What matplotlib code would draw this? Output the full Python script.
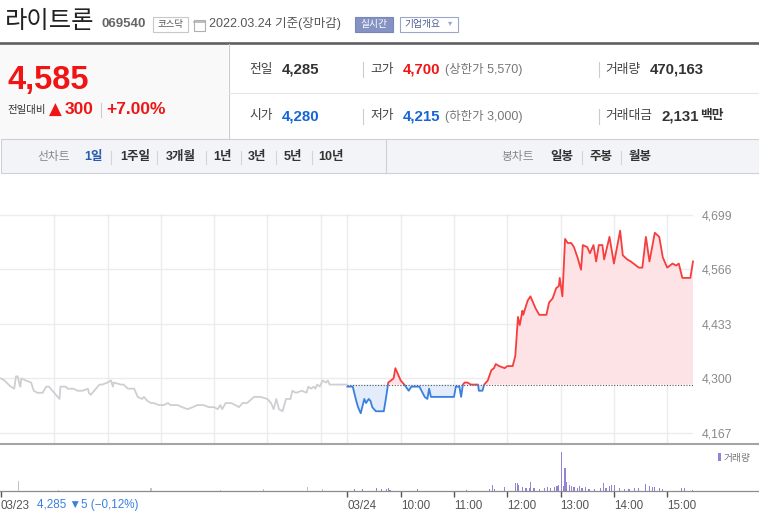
import matplotlib
matplotlib.use('Agg')
import matplotlib.pyplot as plt
from matplotlib.patches import Rectangle
from matplotlib.lines import Line2D
import numpy as np

plt.rcParams['font.family'] = ['Liberation Sans', 'Noto Sans CJK KR', 'DejaVu Sans']

# ---- data ----
# 03/23 intraday (minutes after 09:00) and price
t_prev = [0, 4, 11, 15, 17, 19, 21, 22, 23, 28, 34, 37, 41, 47, 51, 54, 58, 62, 66, 67,
          73, 75, 79, 82, 86, 92, 98, 99, 101, 105, 111, 114, 120, 124, 126, 127, 135, 138, 143, 150,
          154, 159, 161, 165, 169, 172, 178, 183, 188, 191, 199, 204, 210, 216, 221, 228, 234, 240, 244, 247,
          249, 253, 259, 264, 268, 272, 277, 285, 292, 300, 304, 307, 310, 313, 317, 321, 326, 328, 332, 339,
          344, 346, 349, 352, 354, 356, 359, 362, 366, 368, 370, 389]
p_prev = [4300, 4295, 4280, 4275, 4305, 4305, 4285, 4280, 4300, 4295, 4290, 4270, 4265, 4265, 4280, 4280, 4270, 4260, 4250, 4280,
          4280, 4275, 4275, 4275, 4270, 4270, 4275, 4265, 4260, 4270, 4285, 4285, 4290, 4295, 4280, 4290, 4285, 4285, 4275, 4275,
          4255, 4250, 4255, 4245, 4240, 4240, 4235, 4235, 4240, 4235, 4235, 4230, 4225, 4230, 4235, 4235, 4230, 4230, 4225, 4235,
          4225, 4240, 4240, 4235, 4230, 4240, 4240, 4255, 4255, 4250, 4240, 4225, 4250, 4225, 4220, 4250, 4250, 4270, 4265, 4270,
          4265, 4280, 4275, 4280, 4275, 4285, 4280, 4295, 4290, 4295, 4285, 4285]

# 03/24 intraday (minutes after 09:00) and price
t_today = [0, 6, 10, 12, 15, 19, 21, 24, 26, 28, 32, 38, 41, 44, 46, 49, 52, 54, 57, 60,
           64, 69, 72, 77, 81, 87, 90, 92, 94, 100, 120, 122, 126, 128, 130, 132, 135, 139, 147, 148,
           152, 154, 158, 162, 165, 167, 171, 177, 180, 186, 189, 192, 194, 197, 198, 200, 203, 206, 208, 212,
           216, 220, 224, 227, 231, 235, 238, 239, 242, 245, 248, 252, 255, 259, 263, 265, 270, 273, 277, 280,
           283, 287, 289, 295, 300, 307, 310, 315, 319, 325, 328, 332, 336, 340, 346, 351, 355, 360, 366, 370,
           373, 377, 381, 386, 389]
p_today = [4280, 4280, 4245, 4230, 4215, 4250, 4240, 4250, 4245, 4230, 4220, 4220, 4220, 4260, 4290, 4295, 4300, 4325, 4310, 4295,
           4285, 4270, 4280, 4280, 4280, 4255, 4250, 4275, 4255, 4255, 4255, 4280, 4280, 4255, 4285, 4290, 4290, 4285, 4285, 4270,
           4270, 4285, 4295, 4320, 4325, 4335, 4330, 4325, 4330, 4330, 4355, 4450, 4430, 4465, 4455, 4470, 4490, 4500, 4490, 4470,
           4455, 4455, 4455, 4485, 4495, 4520, 4525, 4545, 4500, 4640, 4630, 4630, 4620, 4595, 4565, 4625, 4620, 4605, 4625, 4585,
           4625, 4625, 4590, 4645, 4580, 4660, 4600, 4590, 4585, 4575, 4570, 4570, 4645, 4585, 4655, 4645, 4595, 4570, 4580, 4575,
           4580, 4545, 4545, 4545, 4585]

vol_prev_t = [20, 65, 169, 247, 296, 345, 362]
vol_prev_v = [14000, 1400, 4200, 1400, 2800, 5600, 2800]
vol_today_t = [8, 17, 33, 38, 44, 46, 48, 79, 134, 160, 163, 166, 177, 189, 191, 193, 197, 201, 205, 206,
               210, 216, 222, 225, 229, 233, 236, 238, 241, 243, 245, 247, 250, 252, 255, 259, 261, 264, 268, 272,
               278, 285, 288, 291, 295, 297, 301, 306, 312, 317, 323, 328, 336, 340, 343, 346, 351, 355, 376, 379, 388]
vol_today_v = [2800, 2800, 4200, 2400, 2800, 4200, 1400, 2800, 1400, 2800, 8400, 2800, 5600, 10800, 11200, 8400, 5600, 4200, 4200, 12200,
               4200, 2800, 4200, 5600, 4200, 5600, 7000, 8400, 55000, 7000, 32200, 12600, 8400, 7000, 5600, 4200, 7000, 4200, 5600, 2800,
               2800, 4200, 11200, 4200, 7000, 8400, 8400, 4200, 2800, 2800, 4200, 4200, 9800, 7000, 5600, 5600, 4200, 2800, 4200, 4200, 1400]

prev_close = 4285
y_ticks = [4167, 4300, 4433, 4566, 4699]
x_tick_pos = [0, 390, 450, 510, 570, 630, 690, 750]
x_tick_lbl = ['03/23', '03/24', '10:00', '11:00', '12:00', '13:00', '14:00', '15:00']
grid_x = [60, 120, 180, 240, 300, 360, 390, 450, 510, 570, 630, 690, 750]

W, H = 759, 524
fig = plt.figure(figsize=(W / 100, H / 100), dpi=100)
fig.patch.set_facecolor('white')


def box(x, y, w, h):
    return [x / W, 1 - (y + h) / H, w / W, h / H]


def txt(x, y, s, **kw):
    fig.text(x / W, 1 - y / H, s, va='center', **kw)


def rect(x, y, w, h, **kw):
    fig.add_artist(Rectangle((x / W, 1 - (y + h) / H), w / W, h / H,
                             transform=fig.transFigure, **kw))


def hline(x0, x1, y, **kw):
    fig.add_artist(Line2D([x0 / W, x1 / W], [1 - y / H, 1 - y / H],
                          transform=fig.transFigure, **kw))


def vline(x, y0, y1, **kw):
    fig.add_artist(Line2D([x / W, x / W], [1 - y0 / H, 1 - y1 / H],
                          transform=fig.transFigure, **kw))


# ---- header ----
txt(5, 21.5, '라이트론', fontsize=17.5, color='#222222', family=['Noto Sans CJK KR'])
txt(102, 24, '069540', fontsize=9.5, fontweight='bold', color='#666666')
rect(152.5, 16.5, 35, 15, facecolor='white', edgecolor='#c8c8c8', lw=0.8)
txt(170, 24, '코스닥', fontsize=6.8, color='#555555', ha='center')
rect(194, 19.5, 11, 11, facecolor='white', edgecolor='#b0b0b0', lw=0.8)
hline(194, 205, 22, color='#b0b0b0', lw=1.2)
txt(209, 24, '2022.03.24 기준(장마감)', fontsize=9, color='#555555')
rect(355, 16.5, 38, 15, facecolor='#8593c4', edgecolor='#7886b8', lw=0.8)
txt(374, 24, '실시간', fontsize=7, color='white', ha='center')
rect(400, 16.5, 58, 15, facecolor='white', edgecolor='#9aa6cc', lw=0.8)
txt(404, 24, '기업개요', fontsize=7, color='#4b5c94')
txt(448, 24, '▾', fontsize=6, color='#9aa6cc')

hline(0, W, 43, color='#606060', lw=1.9)

# left quote panel
rect(0, 44.3, 228, 94.7, facecolor='#f9f9f9', edgecolor='none')
vline(228.5, 44.3, 139, color='#cccccc', lw=0.8)
txt(7, 80.5, '4,585', fontsize=23.5, fontweight='bold', color='#f01414')
txt(7, 110, '전일대비', fontsize=7.5, color='#333333')
txt(49, 109.5, '▲', fontsize=12, color='#f01414', family=['DejaVu Sans'])
txt(64.5, 110, '300', fontsize=12.5, fontweight='bold', color='#f01414')
vline(101, 103, 117, color='#cccccc', lw=0.8)
txt(106, 110, '+7.00%', fontsize=12.5, fontweight='bold', color='#f01414')

# right quote table
hline(229, W, 92.7, color='#e6e6e6', lw=0.8)
for xs in (363, 598.5):
    vline(xs, 62, 77, color='#cccccc', lw=0.8)
    vline(xs, 109, 124, color='#cccccc', lw=0.8)

txt(249, 69.5, '전일', fontsize=9.2, color='#444444')
txt(282, 69.5, '4,285', fontsize=10.8, fontweight='bold', color='#333333')
txt(370, 69.5, '고가', fontsize=9.2, color='#444444')
txt(403, 69.5, '4,700', fontsize=10.8, fontweight='bold', color='#f01414')
txt(445, 69.5, '(상한가 5,570)', fontsize=9, color='#777777')
txt(605, 69.5, '거래량', fontsize=9.2, color='#444444')
txt(650, 69.5, '470,163', fontsize=10.8, fontweight='bold', color='#333333')

txt(249, 116.5, '시가', fontsize=9.2, color='#444444')
txt(282, 116.5, '4,280', fontsize=10.8, fontweight='bold', color='#1565d8')
txt(370, 116.5, '저가', fontsize=9.2, color='#444444')
txt(403, 116.5, '4,215', fontsize=10.8, fontweight='bold', color='#1565d8')
txt(445, 116.5, '(하한가 3,000)', fontsize=9, color='#777777')
txt(605, 116.5, '거래대금', fontsize=9.2, color='#444444')
txt(662, 116.5, '2,131', fontsize=10.8, fontweight='bold', color='#333333')
txt(700, 116.5, '백만', fontsize=9.2, fontweight='bold', color='#333333')

# tab bar
rect(0.5, 139, W - 1, 34, facecolor='#f3f4f7', edgecolor='#d0d0d4', lw=0.8)
vline(385.7, 139, 173, color='#d0d0d4', lw=0.8)
ty = 157.3
txt(37, ty, '선차트', fontsize=8.5, color='#888888')
txt(84, ty, '1일', fontsize=9, fontweight='bold', color='#2a5bb0')
for sx in (110.5, 157, 206, 241, 276, 312, 582, 621):
    vline(sx, 151, 164, color='#d4d4d4', lw=0.8)
for sx, s in ((120, '1주일'), (166, '3개월'), (213, '1년'), (248, '3년'), (284, '5년'), (318.5, '10년')):
    txt(sx, ty, s, fontsize=9, fontweight='bold', color='#333333')
txt(501, ty, '봉차트', fontsize=8.5, color='#888888')
for sx, s in ((550, '일봉'), (589, '주봉'), (629, '월봉')):
    txt(sx, ty, s, fontsize=9, fontweight='bold', color='#333333')

# ---- price chart ----
px_per_won = (433 - 214.7) / (4699 - 4167)
y_top = 4699 + 1 / px_per_won
y_bot = 4167 - (444 - 433) / px_per_won
ax = fig.add_axes(box(0, 213.7, 693, 444 - 213.7))
ax.set_xlim(-1, 779)
ax.set_ylim(y_bot, y_top)
for s in ax.spines.values():
    s.set_visible(False)
ax.set_xticks(grid_x)
ax.set_yticks(y_ticks)
ax.set_yticklabels([f'{v:,}' for v in y_ticks])
ax.yaxis.tick_right()
ax.tick_params(axis='x', length=0, labelbottom=False)
ax.tick_params(axis='y', length=0, pad=6.5, labelsize=8.8, labelcolor='#8a8a8a')
for lbl in ax.get_yticklabels():
    lbl.set_clip_on(False)
ax.grid(True, color='#ececec', lw=1)
ax.set_axisbelow(True)

ax.plot(t_prev, p_prev, color='#cfcfd3', lw=1.3)

tt = np.array(t_today) + 390
pp = np.array(p_today)
ax.fill_between(tt, pp, prev_close, where=pp >= prev_close, interpolate=True,
                color='#fde3e5', lw=0)
ax.fill_between(tt, pp, prev_close, where=pp <= prev_close, interpolate=True,
                color='#e3ecfa', lw=0)
ax.plot([390, 779], [prev_close, prev_close], color='#555555', lw=0.8, ls=(0, (1, 1.5)))
red_line, = ax.plot(tt, pp, color='#f73d3d', lw=1.3)
red_line.set_clip_path(Rectangle((380, prev_close), 420, 1000, transform=ax.transData))
blue_line, = ax.plot(tt, pp, color='#3a7fe0', lw=1.3)
blue_line.set_clip_path(Rectangle((380, 3500), 420, prev_close - 3500, transform=ax.transData))

hline(0, W, 444, color='#a5a5a5', lw=1.5)

# ---- volume chart ----
axv = fig.add_axes(box(0, 444.5, 693, 491 - 444.5))
axv.set_xlim(-1, 779)
axv.set_ylim(0, 66000)
axv.bar(vol_prev_t, vol_prev_v, width=1.3, color='#c4c4c4', lw=0)
axv.bar(np.array(vol_today_t) + 390, vol_today_v, width=1.3, color='#9482d4', lw=0)
for s in axv.spines.values():
    s.set_visible(False)
axv.set_yticks([])
axv.set_xticks(x_tick_pos)
axv.set_xticklabels(x_tick_lbl)
axv.tick_params(axis='x', direction='out', length=4, width=1, color='#555555',
                labelsize=8.4, labelcolor='#555555', pad=2.5)
for lbl in axv.get_xticklabels():
    lbl.set_horizontalalignment('left')
hline(0, W, 491, color='#8c8c8c', lw=0.9)

rect(718, 453, 2.5, 8, facecolor='#9482d4', edgecolor='none')
txt(723.5, 457.5, '거래량', fontsize=7, color='#777777')

txt(37, 505, '4,285 ▼5 (−0,12%)', fontsize=8.4, color='#3a7fe0')

fig.savefig('out.png', dpi=100)
